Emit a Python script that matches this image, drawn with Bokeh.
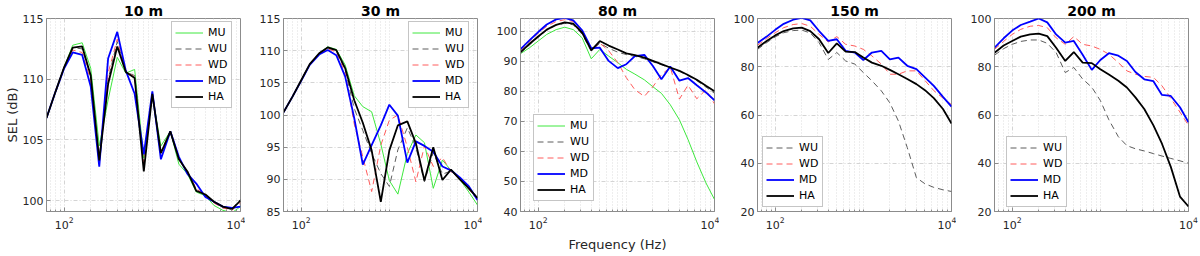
from bokeh.plotting import figure
from bokeh.layouts import row
from bokeh.models import FixedTicker, Legend, LegendItem
from bokeh.embed import file_html
from bokeh.resources import INLINE

# 1/3-octave band centre frequencies (Hz)
freqs = [63, 80, 100, 125, 160, 200, 250, 315, 400, 500, 630, 800, 1000,
         1250, 1600, 2000, 2500, 3150, 4000, 5000, 6300, 8000, 10000]

# ---- 10 m ----
MU_10 = [106.8, 109.0, 111.0, 112.8, 113.0, 110.9, 104.5, 108.3, 111.8, 110.5, 110.8, 103.5,
         108.7, 104.5, 105.7, 103.0, 102.2, 100.7, 100.4, 99.6, 99.2, 99.0, 99.5]
WU_10 = [106.8, 109.0, 111.0, 112.6, 112.5, 110.2, 103.5, 110.0, 113.1, 110.6, 110.3, 102.7,
         108.8, 104.0, 105.7, 103.4, 102.4, 100.9, 100.5, 99.9, 99.4, 99.3, 100.1]
WD_10 = [106.8, 109.0, 111.0, 112.4, 112.2, 109.9, 103.4, 110.5, 113.3, 110.6, 110.2, 103.1,
         108.8, 104.0, 105.7, 103.4, 102.3, 101.0, 100.4, 99.8, 99.4, 99.2, 99.8]
MD_10 = [106.8, 109.0, 110.9, 112.2, 112.0, 109.4, 102.8, 111.7, 113.9, 110.7, 108.8, 103.8,
         109.0, 103.4, 105.7, 103.6, 102.2, 101.4, 100.3, 99.9, 99.5, 99.4, 99.5]
HA_10 = [106.8, 109.0, 111.0, 112.6, 112.7, 110.3, 103.3, 109.6, 112.7, 110.6, 110.1, 102.4,
         108.8, 103.9, 105.7, 103.4, 102.4, 100.8, 100.5, 99.9, 99.5, 99.3, 100.0]

# ---- 30 m ----
MU_30 = [100.4, 102.9, 105.4, 107.9, 109.6, 110.6, 110.2, 107.8, 103.0, 101.3, 100.5, 95.5,
         89.8, 87.7, 94.0, 96.9, 95.7, 88.6, 93.0, 91.4, 90.0, 88.0, 86.0]
WU_30 = [100.4, 102.9, 105.4, 107.9, 109.6, 110.4, 110.0, 107.0, 101.0, 97.6, 94.0, 90.9,
         88.9, 94.6, 98.0, 95.0, 89.6, 94.2, 90.8, 91.3, 90.0, 88.4, 86.9]
WD_30 = [100.4, 102.9, 105.4, 107.9, 109.6, 110.3, 109.8, 106.5, 98.6, 93.5, 88.1, 95.3,
         99.2, 100.0, 95.0, 89.6, 95.2, 92.0, 93.4, 91.2, 90.0, 88.5, 86.8]
MD_30 = [100.4, 102.9, 105.3, 107.8, 109.4, 110.1, 109.3, 106.0, 99.5, 92.3, 95.3, 98.4,
         101.6, 99.9, 92.6, 95.9, 95.2, 94.3, 92.0, 91.4, 90.3, 88.9, 86.8]
HA_30 = [100.4, 102.9, 105.4, 107.9, 109.6, 110.5, 110.1, 107.3, 102.3, 98.8, 94.5, 86.5,
         94.5, 98.4, 99.0, 95.6, 89.8, 95.0, 89.9, 91.5, 90.0, 88.6, 87.1]

# ---- 80 m ----
MU_80 = [92.5, 94.5, 96.7, 98.9, 100.5, 101.3, 100.5, 97.8, 90.8, 93.9, 91.7, 89.5,
         87.3, 85.7, 83.8, 81.5, 79.3, 75.5, 70.5, 64.0, 56.5, 49.5, 44.0]
WU_80 = [92.7, 95.5, 98.0, 100.3, 101.9, 102.6, 102.1, 99.0, 93.4, 96.0, 94.3, 93.0,
         92.2, 91.6, 90.8, 89.8, 88.8, 87.8, 86.6, 85.2, 83.5, 81.4, 79.3]
WD_80 = [93.5, 96.5, 99.3, 101.6, 103.2, 103.8, 103.2, 100.0, 93.8, 96.0, 93.5, 89.5,
         84.5, 80.5, 78.3, 81.5, 85.5, 88.0, 77.4, 82.0, 77.5, 80.5, 75.8]
MD_80 = [94.0, 97.0, 99.7, 102.2, 103.9, 104.4, 103.6, 100.3, 94.3, 94.5, 90.1, 87.7,
         89.0, 91.7, 92.1, 88.4, 84.0, 88.2, 83.5, 84.4, 82.0, 79.6, 77.0]
HA_80 = [93.0, 95.8, 98.2, 100.5, 102.1, 102.9, 102.5, 99.5, 93.6, 96.7, 95.2, 93.9,
         92.6, 92.0, 91.2, 90.1, 89.0, 87.9, 86.8, 85.4, 83.8, 81.8, 80.0]

# ---- 150 m ----
WU_150 = [87.2, 90.0, 92.4, 94.1, 95.0, 95.2, 94.0, 90.0, 83.0, 85.9, 82.4, 81.1,
          77.6, 74.2, 70.0, 65.0, 57.5, 46.5, 34.0, 31.5, 30.0, 29.0, 28.3]
WD_150 = [88.9, 91.7, 94.1, 96.2, 97.5, 97.9, 96.8, 93.4, 90.3, 92.5, 89.3, 88.6,
          87.2, 84.5, 81.1, 76.9, 76.9, 78.3, 78.3, 74.3, 70.1, 67.0, 64.3]
MD_150 = [89.8, 92.5, 95.3, 97.8, 99.5, 100.3, 99.2, 94.8, 90.7, 91.4, 86.6, 85.9,
          82.8, 85.9, 86.6, 83.1, 83.8, 80.4, 79.0, 75.6, 72.1, 67.5, 63.5]
HA_150 = [87.9, 90.7, 93.0, 94.8, 95.9, 96.2, 94.8, 91.4, 85.7, 89.7, 86.3, 86.1,
          83.8, 81.7, 80.4, 78.7, 76.9, 74.9, 72.8, 70.3, 67.0, 62.5, 56.5]

# ---- 200 m ----
WU_200 = [84.8, 87.5, 89.3, 90.5, 91.1, 91.1, 89.7, 85.9, 77.6, 79.7, 74.9, 71.5,
          66.0, 58.0, 51.0, 47.3, 46.0, 45.1, 44.0, 43.0, 42.0, 41.0, 40.0]
WD_200 = [87.2, 90.5, 93.4, 95.5, 96.8, 97.1, 96.2, 92.0, 89.3, 92.5, 89.3, 88.6,
          87.2, 85.2, 81.7, 78.3, 76.9, 76.0, 75.6, 72.1, 66.9, 61.2, 55.7]
MD_200 = [87.9, 91.8, 95.0, 97.3, 98.7, 100.0, 98.4, 93.4, 90.0, 90.7, 85.0, 78.7,
          82.8, 85.6, 84.6, 82.4, 77.8, 74.8, 74.0, 68.3, 67.9, 63.2, 57.0]
HA_200 = [85.8, 88.8, 90.7, 92.5, 93.4, 93.7, 92.7, 87.9, 82.4, 86.1, 81.7, 81.5,
          79.0, 76.8, 74.2, 71.4, 67.3, 62.5, 55.7, 48.1, 38.5, 26.2, 22.1]

titles = ["10 m", "30 m", "80 m", "150 m", "200 m"]
x_tick_values = [100, 10000]
x_minor = [70, 80, 90, 200, 300, 400, 500, 600, 700, 800, 900, 1000,
           2000, 3000, 4000, 5000, 6000, 7000, 8000, 9000]

FONT = "DejaVu Sans"
STYLE = {
    "MU": dict(color="#3ee83e", width=1.0, dash="solid"),
    "WU": dict(color="#5c5c5c", width=1.0, dash="6 4"),
    "WD": dict(color="#ff5c5c", width=1.0, dash="6 4"),
    "MD": dict(color="#0000ff", width=1.8, dash="solid"),
    "HA": dict(color="#000000", width=1.8, dash="solid"),
}

panels = [
    dict(series=[("MU", MU_10), ("WU", WU_10), ("WD", WD_10), ("MD", MD_10), ("HA", HA_10)],
         yr=(99.1, 115.0), yt=[100, 105, 110, 115], leg=(125, 103)),
    dict(series=[("MU", MU_30), ("WU", WU_30), ("WD", WD_30), ("MD", MD_30), ("HA", HA_30)],
         yr=(85.0, 115.0), yt=[85, 90, 95, 100, 105, 110, 115], leg=(125, 103)),
    dict(series=[("MU", MU_80), ("WU", WU_80), ("WD", WD_80), ("MD", MD_80), ("HA", HA_80)],
         yr=(40.0, 104.2), yt=[40, 50, 60, 70, 80, 90, 100], leg=(13, 10)),
    dict(series=[("WU", WU_150), ("WD", WD_150), ("MD", MD_150), ("HA", HA_150)],
         yr=(20.0, 100.0), yt=[20, 40, 60, 80, 100], leg=(5, 4)),
    dict(series=[("WU", WU_200), ("WD", WD_200), ("MD", MD_200), ("HA", HA_200)],
         yr=(20.0, 100.0), yt=[20, 40, 60, 80, 100], leg=(12, 4)),
]

widths = [245, 237, 237, 237, 244]
left_b = [46, 38, 38, 38, 38]
right_b = [5, 5, 5, 5, 12]

figs = []
for i, pn in enumerate(panels):
    p = figure(width=widths[i], height=256, x_axis_type="log",
               x_range=(63, 10000), y_range=pn["yr"],
               output_backend="svg", toolbar_location=None,
               min_border_left=left_b[i], min_border_right=right_b[i],
               min_border_top=17, min_border_bottom=45)
    p.title.text = titles[i]
    p.title.align = "center"
    p.title.text_font = FONT
    p.title.text_font_size = "14px"
    p.title.text_font_style = "bold"
    p.title.text_color = "#000000"
    p.title.standoff = 0
    p.outline_line_color = "#8c8c8c"
    p.outline_line_width = 1
    p.background_fill_color = "white"
    p.border_fill_color = "white"

    xa = p.xaxis[0]
    xa.ticker = FixedTicker(ticks=x_tick_values, minor_ticks=x_minor)
    ya = p.yaxis[0]
    ya.ticker = FixedTicker(ticks=pn["yt"])
    for ax in (xa, ya):
        ax.axis_line_color = "#8c8c8c"
        ax.major_tick_line_color = "#8c8c8c"
        ax.minor_tick_line_color = "#8c8c8c"
        ax.major_tick_in = 4
        ax.major_tick_out = 0
        ax.minor_tick_in = 2
        ax.minor_tick_out = 0
        ax.major_label_text_font = FONT
        ax.major_label_text_font_size = "11px"
        ax.major_label_text_color = "#262626"
        ax.axis_label_text_font = FONT
        ax.axis_label_text_font_size = "13px"
        ax.axis_label_text_font_style = "normal"
        ax.axis_label_text_color = "#262626"
    ya.minor_tick_line_color = None
    xa.major_label_standoff = 5
    ya.major_label_standoff = 3
    if i == 0:
        ya.axis_label = "SEL (dB)"
        ya.axis_label_standoff = 0
    if i == 2:
        xa.axis_label = "Frequency (Hz)"
        xa.axis_label_standoff = 5

    xg = p.xgrid[0]
    xg.grid_line_color = "#d4d4d4"
    xg.grid_line_dash = "4 2 1 2"
    xg.minor_grid_line_color = "#dcdcdc"
    xg.minor_grid_line_dash = "1 2"
    yg = p.ygrid[0]
    yg.grid_line_color = "#d4d4d4"
    yg.grid_line_dash = "4 2 1 2"

    items = []
    for name, vals in pn["series"]:
        st = STYLE[name]
        r = p.line(freqs, vals, line_color=st["color"], line_width=st["width"],
                   line_dash=st["dash"])
        items.append(LegendItem(label=name, renderers=[r]))
    leg = Legend(items=items, location=pn["leg"])
    leg.glyph_width = 28
    leg.glyph_height = 15
    leg.label_height = 15
    leg.label_standoff = 5
    leg.label_text_font = FONT
    leg.label_text_font_size = "11px"
    leg.label_text_color = "#000000"
    leg.spacing = 1
    leg.padding = 3
    leg.margin = 0
    leg.border_line_color = "#8c8c8c"
    leg.border_line_width = 1
    leg.background_fill_color = "white"
    leg.background_fill_alpha = 1.0
    p.add_layout(leg)
    figs.append(p)

layout = row(figs)
open("out.html", "w").write(file_html(layout, INLINE))
